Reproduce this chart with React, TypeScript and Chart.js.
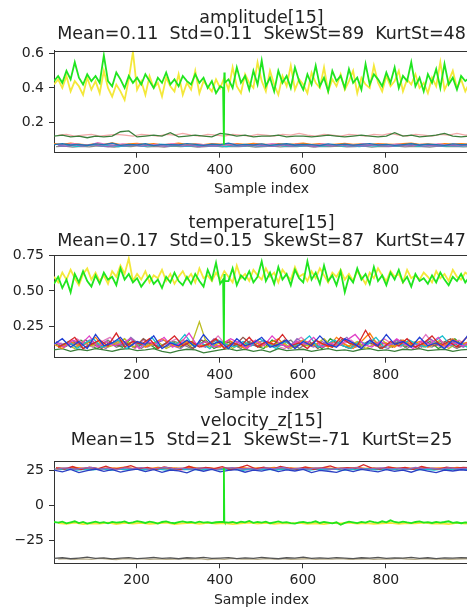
import React, { useEffect, useRef } from "react";
import { Chart, registerables } from "chart.js";
Chart.register(...registerables);

// ---------- sample indices ----------
const X_MAIN = Array.from({ length: 101 }, (_, i) => 1 + 10 * i);
const X_CL_A = Array.from({ length: 51 }, (_, i) => 1 + 20 * i);
const X_CL_B = Array.from({ length: 51 }, (_, i) => 11 + 20 * i);
const X_CL_C = Array.from({ length: 51 }, (_, i) => 6 + 20 * i);
const X_CL_D = Array.from({ length: 51 }, (_, i) => 16 + 20 * i);
const X_SPIKE = [408, 410, 412];
const X_TICKS = [200, 400, 600, 800];

// ---------- amplitude[15] ----------
const AMP_TITLE = ["amplitude[15]", "Mean=0.11  Std=0.11  SkewSt=89  KurtSt=48"];
const AMP_YTICKS = [0.2, 0.4, 0.6];
const AMP_LIME = [
  0.44, 0.47, 0.43, 0.50, 0.45, 0.55, 0.46, 0.42, 0.48, 0.44,
  0.47, 0.43, 0.59, 0.44, 0.41, 0.49, 0.45, 0.40, 0.47, 0.43,
  0.46, 0.42, 0.48, 0.44, 0.40, 0.46, 0.43, 0.49, 0.42, 0.45,
  0.41, 0.47, 0.44, 0.42, 0.48, 0.43, 0.46, 0.40, 0.44, 0.37,
  0.41, 0.49, 0.45, 0.40, 0.52, 0.43, 0.47, 0.39, 0.50, 0.42,
  0.56, 0.41, 0.46, 0.38, 0.50, 0.43, 0.47, 0.40, 0.52, 0.44,
  0.39, 0.48, 0.42, 0.53, 0.41, 0.46, 0.38, 0.50, 0.44, 0.47,
  0.40, 0.51, 0.43, 0.46, 0.39, 0.54, 0.42, 0.48, 0.45, 0.41,
  0.49, 0.43, 0.52, 0.40, 0.47, 0.44, 0.55, 0.41, 0.46, 0.38,
  0.48, 0.43, 0.51, 0.40, 0.54, 0.42, 0.46, 0.39, 0.47, 0.44, 0.46,
];
const AMP_LIME_SPIKE = [0.40, 0.07, 0.43];
const AMP_YELLOW = [
  0.42, 0.45, 0.40, 0.47, 0.38, 0.44, 0.41, 0.36, 0.46, 0.39,
  0.44, 0.37, 0.50, 0.40, 0.35, 0.42, 0.38, 0.33, 0.45, 0.61,
  0.39, 0.44, 0.36, 0.47, 0.40, 0.43, 0.35, 0.46, 0.41, 0.38,
  0.48, 0.36, 0.43, 0.39, 0.50, 0.37, 0.44, 0.41, 0.38, 0.45,
  0.40, 0.46, 0.39, 0.52, 0.41, 0.37, 0.48, 0.43, 0.40, 0.55,
  0.44, 0.38, 0.50, 0.42, 0.36, 0.47, 0.41, 0.53, 0.39, 0.45,
  0.42, 0.37, 0.49, 0.43, 0.40, 0.52, 0.38, 0.45, 0.41, 0.48,
  0.39, 0.44, 0.50, 0.37, 0.46, 0.42, 0.40, 0.53, 0.43, 0.38,
  0.47, 0.41, 0.44, 0.50, 0.38, 0.45, 0.42, 0.48, 0.40, 0.43,
  0.37, 0.46, 0.41, 0.55, 0.39, 0.44, 0.50, 0.40, 0.45, 0.38, 0.43,
];
const AMP_DKGREEN = [
  0.12, 0.125, 0.115, 0.12, 0.11, 0.12, 0.115, 0.12, 0.145, 0.15,
  0.115, 0.12, 0.125, 0.12, 0.14, 0.115, 0.12, 0.125, 0.12, 0.115,
  0.135, 0.13, 0.12, 0.125, 0.115, 0.12, 0.12, 0.125, 0.115, 0.12,
  0.12, 0.115, 0.12, 0.125, 0.12, 0.115, 0.12, 0.125, 0.12, 0.115,
  0.12, 0.14, 0.12, 0.125, 0.115, 0.12, 0.125, 0.135, 0.12, 0.115, 0.12,
];
const AMP_PINK = [
  0.125, 0.13, 0.12, 0.125, 0.13, 0.12, 0.125, 0.13, 0.125, 0.12,
  0.13, 0.125, 0.12, 0.13, 0.125, 0.135, 0.125, 0.12, 0.13, 0.125,
  0.12, 0.13, 0.125, 0.12, 0.13, 0.125, 0.12, 0.13, 0.125, 0.135,
  0.125, 0.12, 0.13, 0.125, 0.12, 0.13, 0.125, 0.12, 0.13, 0.125,
  0.135, 0.125, 0.12, 0.13, 0.125, 0.12, 0.13, 0.125, 0.135, 0.125, 0.13,
];
const AMP_BLUE = [
  0.07, 0.075, 0.068, 0.072, 0.065, 0.074, 0.07, 0.078, 0.066, 0.071,
  0.069, 0.075, 0.064, 0.072, 0.07, 0.068, 0.076, 0.071, 0.066, 0.073,
  0.07, 0.079, 0.067, 0.072, 0.069, 0.074, 0.066, 0.071, 0.075, 0.068,
  0.072, 0.07, 0.065, 0.074, 0.069, 0.073, 0.067, 0.071, 0.076, 0.069,
  0.072, 0.066, 0.07, 0.075, 0.068, 0.073, 0.07, 0.066, 0.074, 0.07, 0.072,
];
const AMP_PURPLE = [
  0.065, 0.06, 0.068, 0.062, 0.07, 0.064, 0.058, 0.066, 0.063, 0.069,
  0.061, 0.067, 0.064, 0.06, 0.068, 0.063, 0.066, 0.059, 0.065, 0.062,
  0.07, 0.064, 0.061, 0.067, 0.063, 0.065, 0.06, 0.068, 0.062, 0.066,
  0.064, 0.059, 0.067, 0.063, 0.069, 0.061, 0.065, 0.062, 0.068, 0.064,
  0.06, 0.066, 0.063, 0.069, 0.061, 0.065, 0.062, 0.067, 0.063, 0.066, 0.064,
];
const AMP_MAGENTA = [
  0.072, 0.068, 0.076, 0.07, 0.066, 0.082, 0.071, 0.067, 0.074, 0.069,
  0.073, 0.065, 0.071, 0.068, 0.075, 0.07, 0.066, 0.073, 0.069, 0.072,
  0.067, 0.074, 0.07, 0.065, 0.072, 0.068, 0.075, 0.07, 0.067, 0.073,
  0.069, 0.066, 0.074, 0.07, 0.068, 0.072, 0.066, 0.075, 0.069, 0.071,
  0.067, 0.073, 0.07, 0.065, 0.072, 0.068, 0.074, 0.069, 0.071, 0.067, 0.07,
];
const AMP_CYAN = [
  0.062, 0.066, 0.06, 0.064, 0.068, 0.061, 0.065, 0.059, 0.063, 0.067,
  0.06, 0.064, 0.072, 0.061, 0.066, 0.06, 0.063, 0.067, 0.061, 0.065,
  0.059, 0.064, 0.062, 0.066, 0.06, 0.064, 0.068, 0.061, 0.065, 0.062,
  0.066, 0.06, 0.063, 0.067, 0.061, 0.064, 0.059, 0.065, 0.062, 0.066,
  0.06, 0.064, 0.068, 0.061, 0.063, 0.066, 0.06, 0.064, 0.062, 0.065, 0.063,
];
const AMP_ORANGE = [
  0.075, 0.071, 0.078, 0.073, 0.069, 0.076, 0.072, 0.08, 0.07, 0.074,
  0.077, 0.071, 0.075, 0.069, 0.073, 0.078, 0.072, 0.074, 0.07, 0.076,
  0.073, 0.069, 0.075, 0.071, 0.077, 0.073, 0.07, 0.076, 0.072, 0.074,
  0.078, 0.071, 0.075, 0.069, 0.073, 0.077, 0.072, 0.074, 0.07, 0.076,
  0.073, 0.071, 0.075, 0.078, 0.072, 0.074, 0.07, 0.076, 0.073, 0.075, 0.072,
];
const AMP_GRAY = [
  0.058, 0.062, 0.055, 0.06, 0.057, 0.063, 0.059, 0.056, 0.061, 0.058,
  0.064, 0.057, 0.06, 0.055, 0.062, 0.058, 0.061, 0.056, 0.059, 0.063,
  0.057, 0.06, 0.058, 0.062, 0.055, 0.059, 0.061, 0.057, 0.06, 0.058,
  0.063, 0.056, 0.06, 0.058, 0.062, 0.057, 0.059, 0.061, 0.056, 0.06,
  0.058, 0.062, 0.057, 0.06, 0.059, 0.056, 0.061, 0.058, 0.06, 0.057, 0.059,
];

// ---------- temperature[15] ----------
const TEMP_TITLE = ["temperature[15]", "Mean=0.17  Std=0.15  SkewSt=87  KurtSt=47"];
const TEMP_YTICKS = [0.25, 0.5, 0.75];
const TEMP_LIME = [
  0.55, 0.60, 0.52, 0.58, 0.49, 0.62, 0.56, 0.64, 0.57, 0.53,
  0.61, 0.55, 0.63, 0.58, 0.60, 0.54, 0.66, 0.58, 0.62, 0.56,
  0.59, 0.53, 0.57, 0.61, 0.55, 0.58, 0.52, 0.60, 0.56, 0.63,
  0.57, 0.54, 0.60, 0.55, 0.62, 0.57, 0.53, 0.65, 0.58, 0.70,
  0.55, 0.62, 0.57, 0.66, 0.54, 0.61, 0.58, 0.64, 0.56, 0.60,
  0.71, 0.57, 0.63, 0.55, 0.67, 0.58, 0.62, 0.54, 0.65, 0.59,
  0.56, 0.71, 0.58, 0.63, 0.55, 0.68, 0.57, 0.61, 0.54, 0.64,
  0.49, 0.60, 0.56, 0.66, 0.58, 0.62, 0.55, 0.67, 0.57, 0.61,
  0.54, 0.63, 0.58, 0.65, 0.56, 0.60, 0.53, 0.62, 0.57, 0.59,
  0.55, 0.61, 0.56, 0.63, 0.58, 0.54, 0.60, 0.57, 0.62, 0.56, 0.60,
];
const TEMP_LIME_SPIKE = [0.58, 0.12, 0.57];
const TEMP_YELLOW = [
  0.60, 0.56, 0.63, 0.58, 0.65, 0.59, 0.54, 0.62, 0.66, 0.58,
  0.63, 0.57, 0.61, 0.55, 0.64, 0.60, 0.68, 0.62, 0.73, 0.57,
  0.62, 0.58, 0.64, 0.56, 0.61, 0.59, 0.65, 0.57, 0.62, 0.55,
  0.60, 0.64, 0.58, 0.62, 0.56, 0.66, 0.59, 0.61, 0.57, 0.63,
  0.58, 0.64, 0.60, 0.56, 0.68, 0.59, 0.62, 0.57, 0.65, 0.61,
  0.58, 0.66, 0.60, 0.63, 0.56, 0.65, 0.61, 0.58, 0.67, 0.60,
  0.62, 0.57, 0.64, 0.59, 0.66, 0.61, 0.56, 0.63, 0.60, 0.65,
  0.58, 0.62, 0.57, 0.64, 0.60, 0.55, 0.63, 0.59, 0.66, 0.61,
  0.57, 0.64, 0.60, 0.62, 0.56, 0.65, 0.59, 0.61, 0.58, 0.63,
  0.60, 0.56, 0.64, 0.59, 0.62, 0.57, 0.65, 0.60, 0.58, 0.63, 0.61,
];
const TEMP_BLUE = [
  0.12, 0.16, 0.10, 0.14, 0.09, 0.19, 0.11, 0.13, 0.17, 0.10,
  0.14, 0.12, 0.18, 0.09, 0.13, 0.11, 0.15, 0.10, 0.19, 0.12,
  0.14, 0.09, 0.16, 0.11, 0.13, 0.17, 0.10, 0.12, 0.15, 0.09,
  0.14, 0.11, 0.18, 0.12, 0.10, 0.16, 0.13, 0.09, 0.15, 0.11,
  0.19, 0.12, 0.14, 0.10, 0.17, 0.11, 0.13, 0.09, 0.15, 0.12, 0.20,
];
const TEMP_RED = [
  0.10, 0.13, 0.17, 0.09, 0.12, 0.15, 0.11, 0.20, 0.10, 0.14,
  0.12, 0.16, 0.09, 0.13, 0.18, 0.11, 0.14, 0.10, 0.12, 0.16,
  0.09, 0.13, 0.11, 0.17, 0.10, 0.14, 0.12, 0.19, 0.11, 0.13,
  0.09, 0.15, 0.12, 0.10, 0.17, 0.13, 0.11, 0.22, 0.12, 0.09,
  0.14, 0.11, 0.16, 0.10, 0.13, 0.18, 0.11, 0.14, 0.10, 0.16, 0.21,
];
const TEMP_MAGENTA = [
  0.13, 0.10, 0.15, 0.12, 0.18, 0.10, 0.14, 0.11, 0.13, 0.16,
  0.09, 0.14, 0.12, 0.17, 0.10, 0.13, 0.20, 0.11, 0.14, 0.10,
  0.12, 0.16, 0.13, 0.09, 0.15, 0.11, 0.18, 0.12, 0.10, 0.14,
  0.12, 0.17, 0.10, 0.13, 0.11, 0.15, 0.19, 0.12, 0.10, 0.14,
  0.11, 0.16, 0.12, 0.09, 0.14, 0.12, 0.17, 0.10, 0.13, 0.11, 0.14,
];
const TEMP_CYAN = [
  0.11, 0.14, 0.09, 0.13, 0.16, 0.10, 0.12, 0.15, 0.09, 0.13,
  0.11, 0.17, 0.10, 0.14, 0.12, 0.19, 0.11, 0.13, 0.09, 0.15,
  0.12, 0.10, 0.14, 0.11, 0.16, 0.12, 0.09, 0.14, 0.11, 0.13,
  0.18, 0.10, 0.12, 0.15, 0.11, 0.09, 0.14, 0.12, 0.17, 0.10,
  0.13, 0.11, 0.15, 0.12, 0.10, 0.14, 0.18, 0.11, 0.13, 0.10, 0.15,
];
const TEMP_ORANGE = [
  0.12, 0.09, 0.14, 0.11, 0.13, 0.17, 0.10, 0.12, 0.15, 0.11,
  0.14, 0.10, 0.13, 0.16, 0.12, 0.10, 0.14, 0.12, 0.11, 0.13,
  0.10, 0.15, 0.12, 0.09, 0.14, 0.11, 0.13, 0.16, 0.10, 0.12,
  0.15, 0.11, 0.13, 0.10, 0.17, 0.12, 0.09, 0.14, 0.20, 0.11,
  0.13, 0.10, 0.15, 0.12, 0.14, 0.10, 0.13, 0.11, 0.16, 0.12, 0.14,
];
const TEMP_OLIVE = [
  0.10, 0.12, 0.09, 0.14, 0.11, 0.13, 0.10, 0.12, 0.16, 0.10,
  0.13, 0.11, 0.14, 0.09, 0.12, 0.15, 0.11, 0.28, 0.10, 0.12,
  0.14, 0.09, 0.13, 0.11, 0.15, 0.10, 0.12, 0.14, 0.09, 0.13,
  0.11, 0.12, 0.16, 0.10, 0.13, 0.11, 0.14, 0.09, 0.12, 0.15,
  0.10, 0.13, 0.11, 0.14, 0.10, 0.12, 0.15, 0.09, 0.13, 0.11, 0.12,
];
const TEMP_PURPLE = [
  0.14, 0.11, 0.13, 0.10, 0.15, 0.12, 0.09, 0.14, 0.11, 0.17,
  0.12, 0.10, 0.13, 0.15, 0.11, 0.09, 0.14, 0.12, 0.10, 0.16,
  0.13, 0.11, 0.14, 0.10, 0.12, 0.15, 0.11, 0.13, 0.09, 0.16,
  0.12, 0.10, 0.14, 0.11, 0.13, 0.17, 0.10, 0.12, 0.14, 0.11,
  0.09, 0.15, 0.12, 0.13, 0.10, 0.16, 0.12, 0.11, 0.14, 0.10, 0.13,
];
const TEMP_BROWN = [
  0.11, 0.13, 0.10, 0.15, 0.12, 0.09, 0.14, 0.11, 0.13, 0.10,
  0.16, 0.12, 0.10, 0.14, 0.11, 0.13, 0.09, 0.15, 0.12, 0.10,
  0.14, 0.11, 0.17, 0.12, 0.10, 0.13, 0.11, 0.15, 0.10, 0.12,
  0.14, 0.09, 0.13, 0.11, 0.16, 0.12, 0.10, 0.14, 0.11, 0.13,
  0.10, 0.15, 0.12, 0.09, 0.14, 0.11, 0.13, 0.16, 0.10, 0.12, 0.11,
];
const TEMP_GRAY = [
  0.10, 0.12, 0.14, 0.09, 0.13, 0.11, 0.15, 0.10, 0.12, 0.14,
  0.09, 0.13, 0.11, 0.10, 0.14, 0.12, 0.09, 0.13, 0.11, 0.15,
  0.10, 0.12, 0.09, 0.14, 0.11, 0.13, 0.10, 0.12, 0.15, 0.09,
  0.13, 0.11, 0.10, 0.14, 0.12, 0.09, 0.13, 0.11, 0.15, 0.10,
  0.12, 0.14, 0.09, 0.13, 0.11, 0.10, 0.14, 0.12, 0.09, 0.13, 0.11,
];
const TEMP_PINK = [
  0.13, 0.11, 0.16, 0.12, 0.10, 0.14, 0.17, 0.11, 0.13, 0.09,
  0.15, 0.12, 0.10, 0.13, 0.16, 0.11, 0.14, 0.10, 0.12, 0.18,
  0.11, 0.13, 0.10, 0.15, 0.12, 0.14, 0.11, 0.09, 0.13, 0.17,
  0.12, 0.10, 0.14, 0.11, 0.12, 0.15, 0.10, 0.13, 0.11, 0.16,
  0.12, 0.10, 0.14, 0.11, 0.19, 0.12, 0.10, 0.13, 0.15, 0.11, 0.13,
];
const TEMP_GREEN = [
  0.12, 0.10, 0.13, 0.15, 0.11, 0.09, 0.14, 0.12, 0.10, 0.16,
  0.11, 0.13, 0.09, 0.12, 0.14, 0.10, 0.13, 0.11, 0.15, 0.09,
  0.12, 0.14, 0.10, 0.13, 0.11, 0.09, 0.15, 0.12, 0.10, 0.14,
  0.11, 0.13, 0.09, 0.16, 0.12, 0.10, 0.13, 0.11, 0.14, 0.09,
  0.12, 0.15, 0.10, 0.13, 0.11, 0.14, 0.09, 0.12, 0.16, 0.11, 0.13,
];
const TEMP_DKGREEN = [
  0.08, 0.09, 0.07, 0.085, 0.075, 0.09, 0.08, 0.07, 0.085, 0.09,
  0.075, 0.08, 0.09, 0.07, 0.06, 0.075, 0.085, 0.08, 0.06, 0.07,
  0.08, 0.09, 0.075, 0.085, 0.07, 0.08, 0.065, 0.09, 0.075, 0.08,
  0.085, 0.07, 0.08, 0.09, 0.075, 0.08, 0.07, 0.085, 0.09, 0.075,
  0.08, 0.07, 0.085, 0.08, 0.09, 0.075, 0.08, 0.085, 0.07, 0.08, 0.085,
];

// ---------- velocity_z[15] ----------
const VEL_TITLE = ["velocity_z[15]", "Mean=15  Std=21  SkewSt=-71  KurtSt=25"];
const VEL_YTICKS = [-25, 0, 25];
const VEL_LIME = [
  -12.0, -12.5, -11.8, -13.0, -12.2, -11.5, -12.8, -12.0, -13.2, -12.4,
  -11.7, -12.6, -12.1, -13.0, -11.9, -12.5, -12.2, -11.6, -12.8, -12.3,
  -11.4, -12.0, -12.7, -11.8, -12.3, -13.1, -12.0, -11.6, -12.4, -12.9,
  -12.1, -11.5, -12.3, -12.0, -12.6, -11.8, -12.4, -12.1, -12.7, -12.2,
  -12.0, -11.6, -12.5, -12.0, -12.8, -11.7, -12.3, -11.2, -12.6, -12.0,
  -12.4, -11.8, -12.9, -12.2, -11.6, -12.5, -12.1, -12.8, -13.2, -12.3,
  -11.9, -12.6, -12.2, -11.5, -12.7, -12.0, -12.4, -13.0, -12.2, -14.0,
  -12.6, -11.8, -12.3, -12.8, -11.9, -12.4, -11.4, -12.1, -12.6, -11.5,
  -12.2, -10.8, -12.0, -12.5, -11.7, -12.3, -12.8, -12.0, -11.6, -12.4,
  -12.1, -12.7, -11.9, -12.4, -12.0, -11.5, -12.6, -12.2, -12.9, -12.3, -12.5,
];
const VEL_LIME_SPIKE = [-12.0, 27.0, -12.1];
const VEL_YELLOW = [
  -12.8, -13.3, -12.5, -13.6, -12.9, -13.2, -12.4, -13.5, -12.7, -13.1,
  -12.6, -13.4, -12.9, -12.5, -13.6, -13.0, -12.7, -13.3, -12.6, -13.1,
  -12.8, -13.5, -12.9, -12.4, -13.2, -12.7, -13.4, -12.8, -13.0, -12.6,
  -13.3, -12.9, -13.6, -12.7, -13.1, -12.5, -13.2, -12.8, -13.4, -12.9,
  -12.6, -13.3, -12.8, -13.0, -12.5, -13.2, -12.9, -13.5, -12.7, -13.1, -12.8,
];
const VEL_BLUE = [
  25.4, 24.2, 26.0, 23.6, 25.1, 26.2, 24.5, 25.8, 24.0, 25.3,
  26.1, 24.4, 25.7, 23.8, 25.5, 24.9, 23.5, 25.9, 24.6, 26.0,
  24.1, 25.2, 25.8, 23.9, 25.4, 24.7, 26.1, 24.3, 25.6, 24.8,
  25.9, 23.7, 25.3, 24.6, 23.8, 25.7, 24.4, 26.0, 25.0, 24.2,
  25.8, 24.5, 25.4, 23.9, 25.9, 24.7, 23.6, 25.5, 24.8, 25.7, 25.1,
];
const VEL_PURPLE = [
  26.6, 27.1, 25.9, 26.8, 27.3, 26.2, 26.9, 25.7, 27.0, 26.4,
  27.2, 26.0, 26.7, 27.4, 26.3, 26.9, 26.1, 27.1, 26.5, 25.8,
  26.9, 27.2, 26.3, 26.7, 25.9, 27.0, 26.4, 27.3, 26.1, 26.8,
  26.2, 27.1, 26.6, 25.9, 26.9, 26.4, 27.2, 26.0, 26.7, 27.0,
  26.3, 26.8, 26.1, 27.3, 26.5, 26.9, 26.2, 27.0, 26.4, 26.7, 26.5,
];
const VEL_RED = [
  27.2, 26.1, 28.0, 25.8, 27.5, 26.4, 28.3, 26.0, 27.1, 28.6,
  26.3, 27.4, 25.9, 27.8, 26.6, 26.0, 28.2, 26.2, 27.3, 26.5,
  27.9, 25.7, 27.0, 29.0, 26.4, 27.6, 26.0, 28.1, 26.8, 26.2,
  27.7, 25.9, 27.0, 28.4, 26.3, 27.2, 26.6, 29.3, 26.9, 26.1,
  27.8, 26.5, 27.3, 26.0, 28.0, 26.7, 26.2, 27.5, 26.6, 27.4, 27.0,
];
const VEL_CYAN = [
  25.8, 26.3, 25.4, 26.0, 25.6, 26.5, 25.2, 26.1, 25.7, 26.4,
  25.5, 26.2, 25.9, 25.3, 26.6, 25.8, 26.0, 25.4, 26.3, 25.6,
  26.1, 25.9, 25.2, 26.4, 25.7, 26.0, 25.5, 26.3, 25.8, 26.5,
  25.4, 26.1, 25.7, 26.2, 25.3, 26.0, 25.8, 26.4, 25.6, 26.1,
  25.9, 25.2, 26.3, 25.7, 26.0, 25.5, 26.2, 25.8, 26.4, 25.6, 26.0,
];
const VEL_GRAY = [
  26.3, 26.0, 26.6, 25.9, 26.4, 26.1, 26.7, 26.0, 26.3, 25.8,
  26.5, 26.2, 26.0, 26.6, 25.9, 26.3, 26.1, 26.5, 26.0, 26.4,
  25.8, 26.2, 26.6, 26.0, 26.3, 25.9, 26.5, 26.1, 26.4, 26.0,
  26.2, 26.6, 25.9, 26.3, 26.1, 26.5, 26.0, 26.2, 26.4, 25.9,
  26.3, 26.1, 26.6, 26.0, 26.2, 26.5, 25.9, 26.3, 26.1, 26.4, 26.2,
];
const VEL_ORANGE = [
  27.0, 26.6, 27.4, 26.8, 27.2, 26.5, 27.1, 26.9, 27.5, 26.7,
  27.0, 26.4, 27.3, 26.8, 27.1, 26.6, 27.6, 26.9, 27.2, 26.5,
  27.0, 26.8, 27.4, 26.6, 27.1, 26.9, 27.3, 26.5, 27.0, 26.7,
  27.4, 26.8, 27.2, 26.6, 27.0, 26.9, 27.3, 26.7, 27.1, 26.5,
  27.4, 26.8, 27.0, 26.6, 27.2, 26.9, 27.1, 26.7, 27.3, 26.8, 27.0,
];
const VEL_PINK = [
  26.4, 25.9, 26.7, 26.1, 25.6, 26.5, 26.0, 26.8, 25.8, 26.3,
  26.6, 25.7, 26.2, 26.9, 26.0, 25.5, 26.4, 26.1, 26.7, 25.9,
  26.3, 26.0, 26.6, 25.7, 26.2, 26.8, 25.9, 26.4, 26.1, 25.6,
  26.5, 26.0, 26.7, 25.8, 26.3, 26.1, 26.6, 25.9, 26.2, 26.8,
  26.0, 25.7, 26.4, 26.1, 26.5, 25.8, 26.3, 26.0, 26.6, 26.2, 26.4,
];
const VEL_DKGRAY = [
  -38.2, -37.8, -38.5, -38.0, -37.4, -38.3, -37.9, -38.6, -38.1, -37.7,
  -38.4, -38.0, -37.6, -38.2, -37.9, -38.5, -37.8, -38.1, -37.5, -38.3,
  -38.0, -37.7, -38.4, -37.9, -38.2, -37.6, -38.1, -38.5, -37.8, -38.0,
  -37.4, -38.3, -37.9, -38.2, -37.7, -38.0, -38.4, -37.8, -38.1, -37.6,
  -38.3, -37.9, -38.0, -37.5, -38.2, -37.8, -38.4, -37.9, -38.1, -37.7, -38.0,
];
const VEL_TAN = [
  -38.8, -38.5, -39.0, -38.6, -38.9, -38.3, -38.7, -39.1, -38.5, -38.8,
  -38.4, -38.9, -38.6, -39.0, -38.7, -38.4, -38.8, -38.5, -39.1, -38.6,
  -38.9, -38.3, -38.7, -38.6, -39.0, -38.5, -38.8, -38.4, -38.9, -38.7,
  -38.5, -39.0, -38.6, -38.8, -38.4, -38.9, -38.7, -38.5, -39.0, -38.6,
  -38.8, -38.3, -38.7, -38.9, -38.5, -38.8, -38.6, -39.0, -38.7, -38.5, -38.8,
];

// ---------- styles ----------
const LIME = "#1fe51f";
const YELLOW = "#f4e83a";
const FONT = "DejaVu Sans";
const INK = "#222222";
const SPINE = "#333333";
const MAIN_W = 1.8;
const CL_W = 1.3;

type Pt = { x: number; y: number };
const pts = (xs: number[], ys: number[]): Pt[] => xs.map((x, i) => ({ x, y: ys[i] }));
const withSpike = (xs: number[], ys: number[], sx: number[], sy: number[]): Pt[] =>
  pts(xs, ys).concat(pts(sx, sy)).sort((a, b) => a.x - b.x);

type Series = { data: Pt[]; color: string; width: number };
type Panel = {
  title: string[];
  yMin: number;
  yMax: number;
  yTicks: number[];
  fmt: (v: number) => string;
  series: Series[];
  height: number;
  padTop: number;
  padBottom: number;
  t1: number;
  t2: number;
};

const minus = (v: number) => (v < 0 ? "\u2212" + Math.abs(v) : String(v));

const PANELS: Panel[] = [
  {
    title: AMP_TITLE,
    yMin: 0.023,
    yMax: 0.617,
    yTicks: AMP_YTICKS,
    fmt: (v) => v.toFixed(1),
    height: 204,
    padTop: 50.7,
    padBottom: 6.3,
    t1: 28,
    t2: 11.5,
    series: [
      { data: withSpike(X_MAIN, AMP_LIME, X_SPIKE, AMP_LIME_SPIKE), color: LIME, width: MAIN_W },
      { data: pts(X_MAIN, AMP_YELLOW), color: YELLOW, width: MAIN_W },
      { data: pts(X_CL_A, AMP_DKGREEN), color: "#3b7f3b", width: CL_W },
      { data: pts(X_CL_B, AMP_PINK), color: "#f3a9a9", width: CL_W },
      { data: pts(X_CL_A, AMP_BLUE), color: "#1f77b4", width: CL_W },
      { data: pts(X_CL_B, AMP_PURPLE), color: "#9467bd", width: CL_W },
      { data: pts(X_CL_C, AMP_MAGENTA), color: "#e377c2", width: CL_W },
      { data: pts(X_CL_D, AMP_CYAN), color: "#17becf", width: CL_W },
      { data: pts(X_CL_A, AMP_ORANGE), color: "#ff7f0e", width: CL_W },
      { data: pts(X_CL_C, AMP_GRAY), color: "#8a8a8a", width: CL_W },
    ],
  },
  {
    title: TEMP_TITLE,
    yMin: 0.025,
    yMax: 0.755,
    yTicks: TEMP_YTICKS,
    fmt: (v) => v.toFixed(2),
    height: 206,
    padTop: 51,
    padBottom: 7.3,
    t1: 27.5,
    t2: 9.5,
    series: [
      { data: withSpike(X_MAIN, TEMP_LIME, X_SPIKE, TEMP_LIME_SPIKE), color: LIME, width: MAIN_W },
      { data: pts(X_MAIN, TEMP_YELLOW), color: YELLOW, width: MAIN_W },
      { data: pts(X_CL_A, TEMP_BLUE), color: "#1f3fd4", width: CL_W },
      { data: pts(X_CL_B, TEMP_RED), color: "#d62728", width: CL_W },
      { data: pts(X_CL_C, TEMP_MAGENTA), color: "#e040c8", width: CL_W },
      { data: pts(X_CL_D, TEMP_CYAN), color: "#17becf", width: CL_W },
      { data: pts(X_CL_A, TEMP_ORANGE), color: "#ff7f0e", width: CL_W },
      { data: pts(X_CL_B, TEMP_OLIVE), color: "#bcbd22", width: CL_W },
      { data: pts(X_CL_C, TEMP_PURPLE), color: "#9467bd", width: CL_W },
      { data: pts(X_CL_D, TEMP_BROWN), color: "#8c564b", width: CL_W },
      { data: pts(X_CL_B, TEMP_GRAY), color: "#7f7f7f", width: CL_W },
      { data: pts(X_CL_D, TEMP_PINK), color: "#e377c2", width: CL_W },
      { data: pts(X_CL_C, TEMP_GREEN), color: "#2ca02c", width: CL_W },
      { data: pts(X_CL_A, TEMP_DKGREEN), color: "#3b7f3b", width: CL_W },
    ],
  },
  {
    title: VEL_TITLE,
    yMin: -41.8,
    yMax: 32,
    yTicks: VEL_YTICKS,
    fmt: minus,
    height: 199,
    padTop: 51,
    padBottom: 0.7,
    t1: 35,
    t2: 16,
    series: [
      { data: withSpike(X_MAIN, VEL_LIME, X_SPIKE, VEL_LIME_SPIKE), color: LIME, width: MAIN_W },
      { data: pts(X_CL_B, VEL_YELLOW), color: YELLOW, width: MAIN_W },
      { data: pts(X_CL_A, VEL_BLUE), color: "#2a3fc4", width: CL_W },
      { data: pts(X_CL_B, VEL_PURPLE), color: "#9467bd", width: CL_W },
      { data: pts(X_CL_C, VEL_RED), color: "#d62728", width: CL_W },
      { data: pts(X_CL_D, VEL_CYAN), color: "#17becf", width: CL_W },
      { data: pts(X_CL_A, VEL_GRAY), color: "#7f7f7f", width: CL_W },
      { data: pts(X_CL_B, VEL_ORANGE), color: "#ff7f0e", width: CL_W },
      { data: pts(X_CL_C, VEL_PINK), color: "#e377c2", width: CL_W },
      { data: pts(X_CL_A, VEL_DKGRAY), color: "#555555", width: CL_W },
      { data: pts(X_CL_B, VEL_TAN), color: "#b8ad8a", width: CL_W },
    ],
  },
];

const framePlugin = {
  id: "frameAndTitle",
  afterDraw(chart: any, _args: any, opts: any) {
    const { ctx, chartArea } = chart;
    ctx.save();
    ctx.strokeStyle = SPINE;
    ctx.lineWidth = 1;
    ctx.beginPath();
    ctx.moveTo(chartArea.left, Math.round(chartArea.top) + 0.5);
    ctx.lineTo(chartArea.right, Math.round(chartArea.top) + 0.5);
    ctx.stroke();
    ctx.font = `17.5px "${FONT}"`;
    ctx.fillStyle = INK;
    ctx.textAlign = "center";
    ctx.textBaseline = "alphabetic";
    const cx = (chartArea.left + chartArea.right) / 2;
    ctx.fillText(opts.lines[0], cx, chartArea.top - opts.t1);
    ctx.fillText(opts.lines[1], cx, chartArea.top - opts.t2);
    ctx.restore();
  },
};

function PanelChart({ panel }: { panel: Panel }) {
  const ref = useRef<HTMLCanvasElement | null>(null);
  useEffect(() => {
    if (!ref.current) return;
    const axisCommon = {
      grid: { display: true, drawOnChartArea: false, drawTicks: true, tickLength: 5, color: SPINE, tickColor: SPINE, lineWidth: 1 },
      border: { display: true, color: SPINE, width: 1 },
    };
    const chart = new Chart(ref.current, {
      type: "line",
      data: {
        datasets: panel.series.map((s) => ({
          data: s.data,
          borderColor: s.color,
          backgroundColor: s.color,
          borderWidth: s.width,
          pointRadius: 0,
          tension: 0,
          fill: false,
        })),
      },
      options: {
        responsive: false,
        animation: false,
        events: [],
        parsing: false,
        layout: { padding: { top: panel.padTop, bottom: panel.padBottom, left: 0, right: 0 } },
        plugins: {
          legend: { display: false },
          tooltip: { enabled: false },
          title: { display: false },
          frameAndTitle: { lines: panel.title, t1: panel.t1, t2: panel.t2 },
        } as any,
        scales: {
          x: {
            type: "linear",
            min: 1,
            max: 1000,
            ...axisCommon,
            afterBuildTicks: (s: any) => {
              s.ticks = X_TICKS.map((v) => ({ value: v }));
            },
            afterFit: (s: any) => {
              s.height = 45;
            },
            ticks: {
              color: INK,
              font: { family: FONT, size: 14 },
              padding: 4,
              maxRotation: 0,
              autoSkip: false,
              callback: (v: any) => String(v),
            },
            title: {
              display: true,
              text: "Sample index",
              color: INK,
              font: { family: FONT, size: 14 },
              padding: { top: 0, bottom: 0 },
            },
          },
          y: {
            type: "linear",
            min: panel.yMin,
            max: panel.yMax,
            ...axisCommon,
            afterBuildTicks: (s: any) => {
              s.ticks = panel.yTicks.map((v) => ({ value: v }));
            },
            afterFit: (s: any) => {
              s.width = 54;
            },
            ticks: {
              color: INK,
              font: { family: FONT, size: 14 },
              padding: 5,
              autoSkip: false,
              callback: (v: any) => panel.fmt(Number(v)),
            },
          },
        } as any,
      },
      plugins: [framePlugin],
    });
    return () => chart.destroy();
  }, [panel]);
  return (
    <canvas
      ref={ref}
      width={469}
      height={panel.height}
      style={{ display: "block", width: 469, height: panel.height }}
    />
  );
}

export default function App() {
  return (
    <div
      style={{
        position: "absolute",
        left: 0,
        top: 0,
        width: 467,
        height: 609,
        overflow: "hidden",
        background: "#ffffff",
      }}
    >
      {PANELS.map((p, i) => (
        <PanelChart key={i} panel={p} />
      ))}
    </div>
  );
}
